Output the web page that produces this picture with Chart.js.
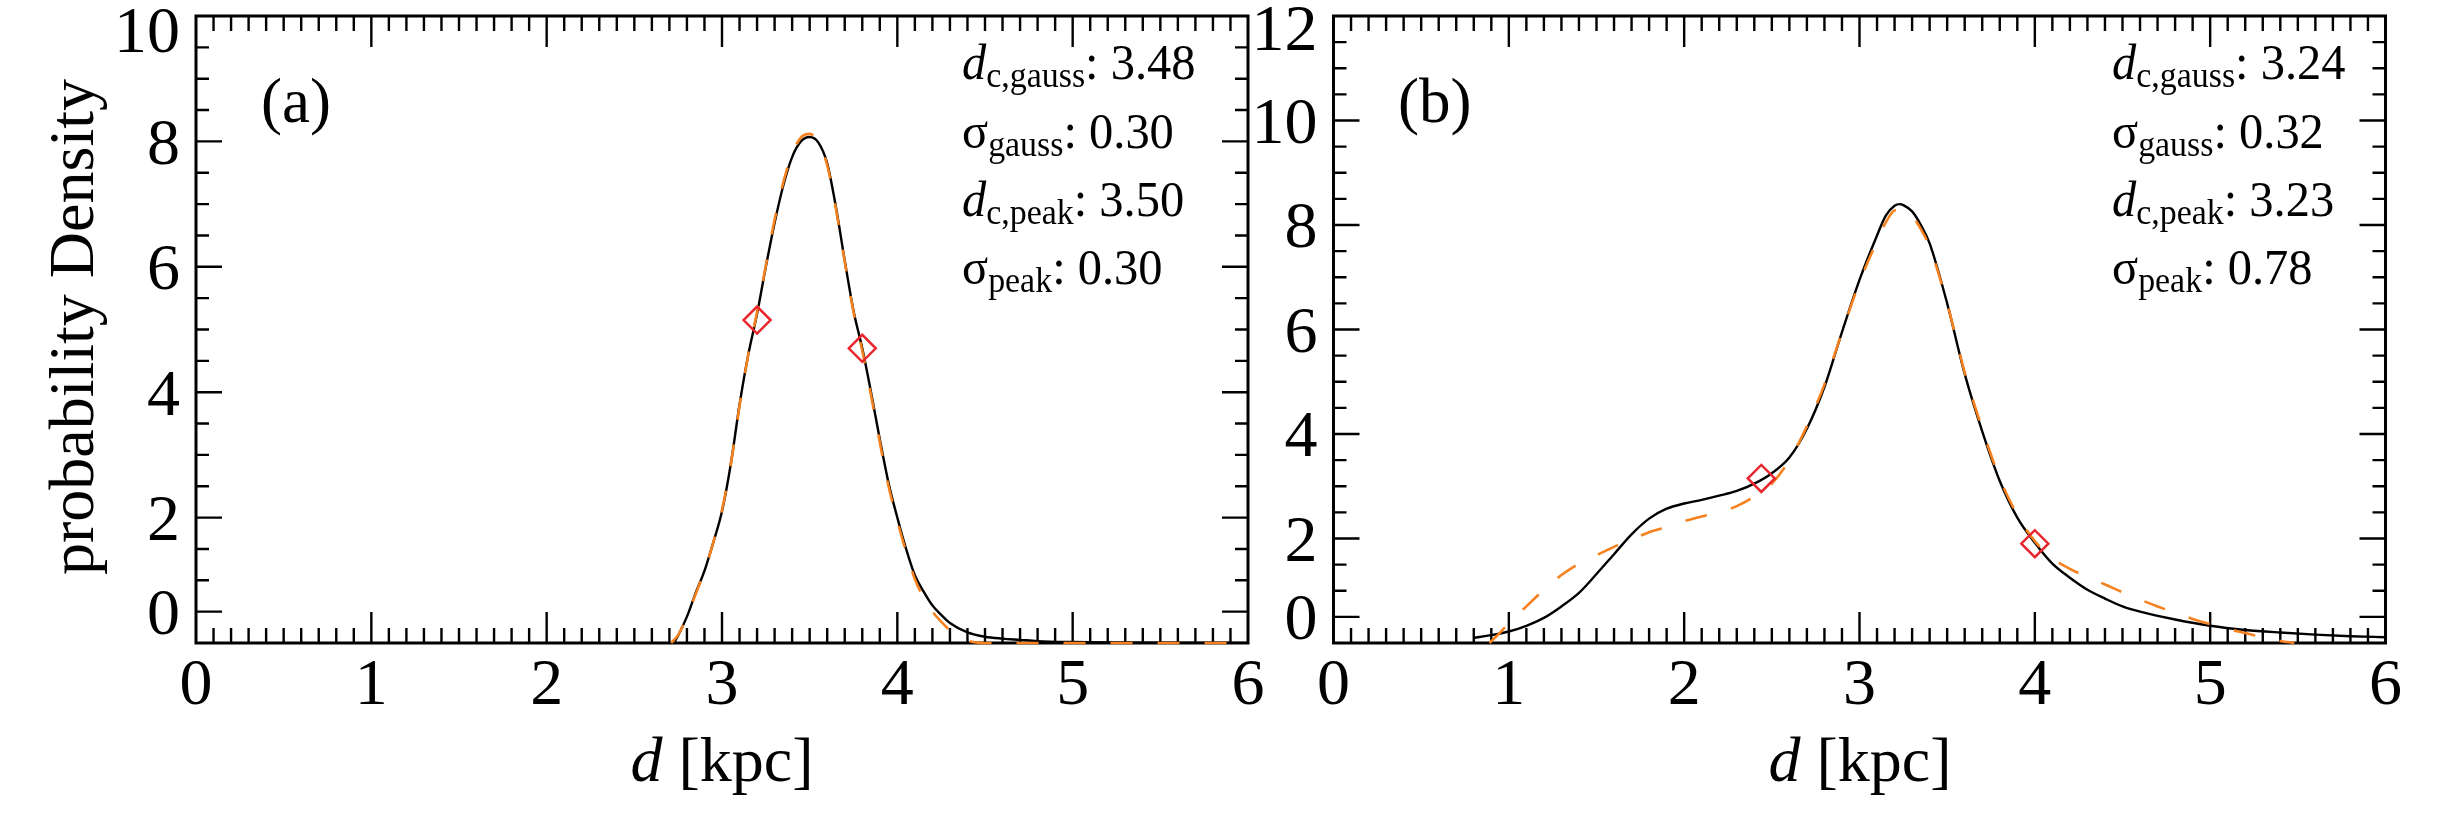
<!DOCTYPE html>
<html>
<head>
<meta charset="utf-8">
<script src="https://cdn.jsdelivr.net/npm/chart.js@4.4.1/dist/chart.umd.min.js"></script>
<style>
html, body { margin: 0; padding: 0; background: #fff; }
#wrap { position: relative; width: 2446px; height: 828px; overflow: hidden; font-family: "Liberation Serif", serif; color: #000; }
canvas { position: absolute; left: 0; top: 0; }
.lab { position: absolute; white-space: nowrap; line-height: 1; }
.note { font-size: 51px; transform: scaleX(0.95); transform-origin: 0 50%; }
.sb { font-size: 0.7em; position: relative; top: 0.22em; }
.xt { font-size: 64px; width: 400px; text-align: center; }
</style>
</head>
<body>
<div id="wrap">
  <canvas id="panelA" width="2446" height="828"></canvas>
  <canvas id="panelB" width="2446" height="828"></canvas>

  <div class="lab" id="ytitle" style="left:72px;top:327px;font-size:64px;transform:translate(-50%,-50%) rotate(-90deg);">probability Density</div>

  <div class="lab" style="left:261px;top:70px;font-size:63px;">(a)</div>
  <div class="lab" style="left:1398px;top:70px;font-size:63px;">(b)</div>

  <div class="lab note" style="left:962px;top:37px;"><i>d</i><span class="sb">c,gauss</span>: 3.48</div>
  <div class="lab note" style="left:962px;top:106px;">σ<span class="sb">gauss</span>: 0.30</div>
  <div class="lab note" style="left:962px;top:174px;"><i>d</i><span class="sb">c,peak</span>: 3.50</div>
  <div class="lab note" style="left:962px;top:242px;">σ<span class="sb">peak</span>: 0.30</div>

  <div class="lab note" style="left:2112px;top:37px;"><i>d</i><span class="sb">c,gauss</span>: 3.24</div>
  <div class="lab note" style="left:2112px;top:106px;">σ<span class="sb">gauss</span>: 0.32</div>
  <div class="lab note" style="left:2112px;top:174px;"><i>d</i><span class="sb">c,peak</span>: 3.23</div>
  <div class="lab note" style="left:2112px;top:242px;">σ<span class="sb">peak</span>: 0.78</div>

  <div class="lab xt" style="left:522px;top:728px;"><i>d</i> [kpc]</div>
  <div class="lab xt" style="left:1660px;top:728px;"><i>d</i> [kpc]</div>
</div>

<script>
// ---- panel (a) ----
const distA  = [2.73, 2.75, 2.80, 2.85, 2.90, 2.95, 3.00, 3.05, 3.10, 3.15, 3.20, 3.25, 3.30, 3.35, 3.40, 3.45, 3.50,
                3.55, 3.60, 3.65, 3.70, 3.75, 3.80, 3.85, 3.90, 3.95, 4.00, 4.05, 4.10, 4.15, 4.20, 4.25, 4.30,
                4.40, 4.50, 4.60, 4.70, 4.80, 5.00, 5.20, 5.50, 6.00];
const solidA = [0.02, 0.12, 0.42, 0.80, 1.15, 1.60, 2.10, 2.85, 3.80, 4.60, 5.25, 6.00, 6.70, 7.30, 7.75, 8.00, 8.07,
                7.98, 7.65, 6.95, 6.10, 5.30, 4.70, 4.00, 3.25, 2.55, 2.00, 1.50, 1.08, 0.82, 0.60, 0.45, 0.32,
                0.17, 0.10, 0.07, 0.05, 0.03, 0.015, 0.008, 0.004, 0.002];
const fitDistA = [2.71, 2.75, 2.80, 2.85, 2.90, 2.95, 3.00, 3.05, 3.10, 3.15, 3.20, 3.25, 3.30, 3.35, 3.40, 3.45, 3.50,
                  3.55, 3.60, 3.65, 3.70, 3.75, 3.80, 3.85, 3.90, 3.95, 4.00, 4.05, 4.10, 4.15, 4.20, 4.25, 4.30,
                  4.35, 4.40, 4.45, 4.50, 6.00];
const fitA     = [0.00, 0.13, 0.42, 0.78, 1.15, 1.60, 2.12, 2.85, 3.78, 4.60, 5.28, 6.02, 6.75, 7.35, 7.80, 8.06, 8.12,
                  7.98, 7.62, 6.92, 6.08, 5.28, 4.66, 3.95, 3.20, 2.50, 1.95, 1.45, 1.02, 0.72, 0.50, 0.34, 0.20,
                  0.10, 0.04, 0.01, 0.00, 0.00];
const markDistA = [3.20, 3.80];
const markA     = [5.15, 4.70];

// ---- panel (b) ----
const distB  = [0.80, 0.90, 1.00, 1.10, 1.20, 1.30, 1.40, 1.50, 1.60, 1.70, 1.80, 1.90, 2.00, 2.10, 2.20, 2.30, 2.40,
                2.50, 2.60, 2.70, 2.80, 2.90, 3.00, 3.10, 3.15, 3.20, 3.23, 3.25, 3.30, 3.35, 3.40, 3.50, 3.60,
                3.70, 3.80, 3.90, 4.00, 4.10, 4.20, 4.30, 4.40, 4.50, 4.60, 4.80, 5.00, 5.20, 5.40, 5.60, 5.80, 6.00];
const solidB = [0.10, 0.15, 0.22, 0.33, 0.48, 0.70, 0.96, 1.32, 1.70, 2.08, 2.38, 2.57, 2.67, 2.74, 2.82, 2.91, 3.05,
                3.25, 3.55, 4.10, 4.90, 5.95, 6.95, 7.80, 8.18, 8.37, 8.40, 8.38, 8.26, 8.00, 7.65, 6.50, 5.15,
                4.05, 3.10, 2.40, 1.92, 1.52, 1.25, 1.02, 0.85, 0.70, 0.60, 0.45, 0.33, 0.25, 0.20, 0.16, 0.13, 0.11];
const fitDistB = [0.89, 0.95, 1.00, 1.10, 1.20, 1.30, 1.40, 1.50, 1.60, 1.70, 1.80, 1.90, 2.00, 2.10, 2.20, 2.30, 2.40,
                  2.50, 2.60, 2.70, 2.80, 2.90, 3.00, 3.10, 3.15, 3.20, 3.25, 3.30, 3.35, 3.40, 3.50, 3.60, 3.70,
                  3.80, 3.90, 4.00, 4.10, 4.20, 4.30, 4.40, 4.50, 4.60, 4.70, 4.80, 4.90, 5.00, 5.10, 5.20, 5.30,
                  5.40, 5.48];
const fitB     = [0.00, 0.20, 0.38, 0.70, 1.02, 1.30, 1.52, 1.68, 1.84, 1.98, 2.12, 2.22, 2.33, 2.42, 2.50, 2.62, 2.80,
                  3.05, 3.50, 4.15, 4.95, 5.95, 6.90, 7.70, 8.05, 8.28, 8.30, 8.18, 7.92, 7.58, 6.50, 5.18, 4.10,
                  3.15, 2.45, 1.95, 1.62, 1.42, 1.26, 1.12, 0.97, 0.83, 0.70, 0.58, 0.46, 0.36, 0.27, 0.19, 0.11,
                  0.04, 0.00];
const markDistB = [2.44, 4.00];
const markB     = [3.15, 1.90];

// ---- axes ----
const xTickVals   = [0, 1, 2, 3, 4, 5, 6];
// long ticks on the y axes; the top label sits a little inside the frame
const yMajorA     = [0.5, 2, 4, 6, 8];
const yLabelPosA  = [0.5, 2, 4, 6, 8, 9.78];
const yLabelTextA = ['0', '2', '4', '6', '8', '10'];
const yMajorB     = [0.5, 2, 4, 6, 8, 10];
const yLabelPosB  = [0.5, 2, 4, 6, 8, 10, 11.78];
const yLabelTextB = ['0', '2', '4', '6', '8', '10', '12'];

Chart.defaults.font.family = '"Liberation Serif", serif';
Chart.defaults.color = '#000';

const pts = (xs, ys) => xs.map((x, i) => ({ x: x, y: ys[i] }));

// IDL style frame: box with inward major/minor ticks on all four sides
const boxTicks = {
    id: 'boxTicks',
    beforeDatasetsDraw(chart) {
        const { ctx, chartArea: a, scales: { x, y } } = chart;
        const o = chart.options.plugins.boxTicks;
        ctx.save();
        ctx.strokeStyle = '#000';
        ctx.lineWidth = 2.4;
        ctx.beginPath();
        const nx = Math.round((x.max - x.min) / o.xMinor);
        for (let i = 1; i < nx; i++) {
            const v = x.min + i * o.xMinor;
            const px = x.getPixelForValue(v);
            const L = xTickVals.some(t => Math.abs(t - v) < 1e-6) ? o.xMajorLen : o.xMinorLen;
            ctx.moveTo(px, a.bottom); ctx.lineTo(px, a.bottom - L);
            ctx.moveTo(px, a.top);    ctx.lineTo(px, a.top + L);
        }
        const ny = Math.round((y.max - y.min) / o.yMinor);
        for (let i = 1; i < ny; i++) {
            const v = y.min + i * o.yMinor;
            const py = y.getPixelForValue(v);
            const L = o.yMajor.some(t => Math.abs(t - v) < 1e-6) ? o.yMajorLen : o.yMinorLen;
            ctx.moveTo(a.left, py);  ctx.lineTo(a.left + L, py);
            ctx.moveTo(a.right, py); ctx.lineTo(a.right - L, py);
        }
        ctx.stroke();
        ctx.lineWidth = 3;
        ctx.strokeRect(a.left, a.top, a.right - a.left, a.bottom - a.top);
        ctx.restore();
    }
};

function makePanel(id, p) {
    return new Chart(document.getElementById(id), {
        type: 'line',
        data: {
            datasets: [
                {
                    data: pts(p.markX, p.markY),
                    showLine: false,
                    pointStyle: 'rectRot',
                    pointRadius: 13.5,
                    pointBorderWidth: 2.5,
                    pointBorderColor: '#e8262d',
                    pointBackgroundColor: 'rgba(0,0,0,0)'
                },
                {
                    data: pts(p.fitX, p.fitY),
                    borderColor: '#f5821f',
                    borderWidth: 2.6,
                    borderDash: [22, 25],
                    pointRadius: 0,
                    clip: 3,
                    cubicInterpolationMode: 'monotone'
                },
                {
                    data: pts(p.solX, p.solY),
                    borderColor: '#000',
                    borderWidth: 2.4,
                    pointRadius: 0,
                    clip: 3,
                    cubicInterpolationMode: 'monotone'
                }
            ]
        },
        options: {
            responsive: false,
            animation: false,
            events: [],
            layout: { padding: p.pad },
            plugins: {
                legend: { display: false },
                tooltip: { enabled: false },
                boxTicks: {
                    xMinor: 0.1, xMajorLen: 31, xMinorLen: 15,
                    yMinor: 0.5, yMajorLen: 26, yMinorLen: 13,
                    yMajor: p.yMajor
                }
            },
            scales: {
                x: {
                    type: 'linear', min: 0, max: 6,
                    grid: { display: false, drawTicks: false },
                    border: { display: false },
                    afterBuildTicks: s => { s.ticks = xTickVals.map(v => ({ value: v })); },
                    ticks: { font: { size: 66 }, color: '#000', padding: 4, maxRotation: 0, autoSkip: false },
                    afterFit: s => { s.height = 185; s.paddingLeft = 0; s.paddingRight = 0; }
                },
                y: {
                    type: 'linear', min: 0, max: p.yMax,
                    grid: { display: false, drawTicks: false },
                    border: { display: false },
                    afterBuildTicks: s => { s.ticks = p.yPos.map(v => ({ value: v })); },
                    ticks: {
                        font: { size: 66 }, color: '#000', padding: 16, autoSkip: false, labelOffset: 5,
                        callback: v => p.yText[p.yPos.indexOf(v)]
                    },
                    afterFit: s => { s.width = p.yWidth; s.paddingTop = 0; s.paddingBottom = 0; }
                }
            }
        },
        plugins: [boxTicks]
    });
}

makePanel('panelA', {
    solX: distA, solY: solidA, fitX: fitDistA, fitY: fitA, markX: markDistA, markY: markA,
    yMax: 10, yPos: yLabelPosA, yText: yLabelTextA, yMajor: yMajorA,
    yWidth: 196, pad: { left: 0, right: 1198, top: 12, bottom: 0 }
});
makePanel('panelB', {
    solX: distB, solY: solidB, fitX: fitDistB, fitY: fitB, markX: markDistB, markY: markB,
    yMax: 12, yPos: yLabelPosB, yText: yLabelTextB, yMajor: yMajorB,
    yWidth: 83.5, pad: { left: 1250, right: 60.5, top: 12, bottom: 0 }
});
</script>
</body>
</html>
